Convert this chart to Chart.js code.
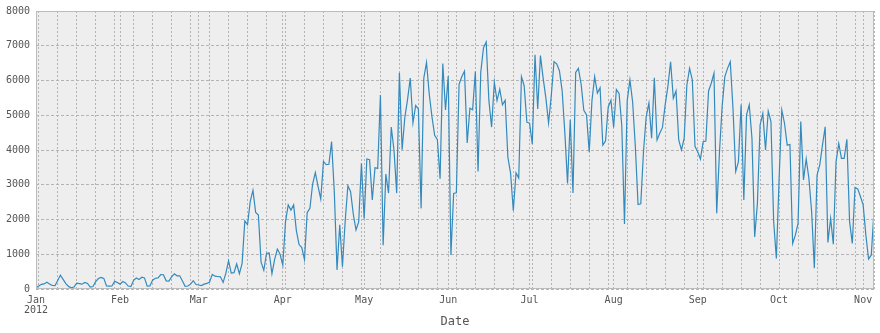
<!DOCTYPE html>
<html>
<head>
<meta charset="utf-8">
<script src="https://cdn.jsdelivr.net/npm/chart.js@4.4.1/dist/chart.umd.min.js"></script>
<style>
  html, body { margin: 0; padding: 0; background: #ffffff; }
  #wrap { width: 880px; height: 333px; position: relative; }
</style>
</head>
<body>
<div id="wrap"><canvas id="chart" width="880" height="333"></canvas></div>
<script>
// Daily counts, 2012, one array per month
const monthLabels = ['Jan', 'Feb', 'Mar', 'Apr', 'May', 'Jun', 'Jul', 'Aug', 'Sep', 'Oct', 'Nov'];
const yearLabel = '2012';
const axisTitle = 'Date';
const yTicks = [0, 1000, 2000, 3000, 4000, 5000, 6000, 7000, 8000];

const jan = [35, 85, 135, 145, 195, 145, 100, 95, 245, 395, 275, 155, 75, 35, 55, 170, 155, 140, 190, 160, 55, 70, 210, 300, 335, 305, 90, 80, 85, 220, 185];
const feb = [140, 215, 175, 85, 70, 250, 315, 270, 340, 320, 80, 85, 255, 310, 320, 415, 410, 235, 225, 350, 435, 380, 380, 230, 75, 85, 140, 240, 130];
const mar = [115, 100, 140, 160, 200, 420, 370, 360, 350, 190, 450, 810, 460, 470, 720, 440, 740, 1960, 1850, 2520, 2840, 2200, 2130, 770, 540, 1030, 1040, 440, 850, 1150, 1000];
const apr = [690, 1940, 2420, 2270, 2420, 1680, 1280, 1190, 850, 2200, 2320, 3020, 3350, 2950, 2590, 3670, 3580, 3590, 4240, 2780, 550, 1850, 640, 1950, 2970, 2800, 2150, 1700, 1940, 3620];
const may = [2020, 3740, 3720, 2560, 3490, 3470, 5580, 1260, 3310, 2760, 4660, 4000, 2760, 6220, 4010, 4940, 5450, 6070, 4780, 5280, 5180, 2320, 6070, 6520, 5610, 4960, 4420, 4300, 3170, 6490, 5150];
const jun = [6130, 980, 2750, 2770, 5890, 6110, 6270, 4200, 5200, 5160, 6260, 3380, 6240, 6940, 7110, 5420, 4660, 5950, 5420, 5750, 5300, 5430, 3790, 3330, 2250, 3340, 3190, 6110, 5850, 4800];
const jul = [4770, 4170, 6740, 5180, 6720, 6070, 5500, 4780, 5560, 6540, 6480, 6280, 5710, 4500, 3040, 4870, 2760, 6230, 6350, 5900, 5140, 5010, 3940, 5420, 6110, 5640, 5790, 4140, 4260, 5240, 5430];
const aug = [4650, 5740, 5630, 4700, 1870, 5420, 6020, 5380, 4100, 2430, 2450, 3950, 4960, 5350, 4340, 6080, 4290, 4480, 4650, 5300, 5830, 6540, 5490, 5700, 4290, 4000, 4340, 5870, 6350, 6020, 4100];
const sep = [3950, 3740, 4240, 4260, 5700, 5920, 6210, 2180, 3910, 5250, 6110, 6350, 6540, 5200, 3380, 3660, 5310, 2560, 5010, 5300, 4340, 1500, 2450, 4720, 5050, 4000, 5120, 4820, 1940, 880];
const oct = [3150, 5150, 4770, 4140, 4160, 1310, 1550, 1890, 4820, 3140, 3740, 3180, 2230, 600, 3280, 3570, 4140, 4670, 1340, 2030, 1290, 3660, 4190, 3760, 3760, 4310, 1940, 1310, 2920, 2880, 2660];
const nov = [2420, 1550, 860, 980, 2250];

// Build the day-indexed series (day 0 = 1 Jan 2012)
const months = [jan, feb, mar, apr, may, jun, jul, aug, sep, oct, nov];
const points = [];
const monthStarts = [];
let day = 0;
months.forEach(m => {
  monthStarts.push(day);
  m.forEach(v => { points.push({ x: day, y: v }); day++; });
});
const lastDay = day - 1;

// Minor grid on Mondays (2 Jan 2012 was a Monday), major grid on month starts
const mondays = [];
for (let d = 1; d <= lastDay; d += 7) mondays.push(d);
const gridDays = Array.from(new Set(monthStarts.concat(mondays))).sort((a, b) => a - b);

const tickFont = { family: 'DejaVu Sans Mono', size: 10, lineHeight: 1.0 };
const textColor = '#555555';
const gridColor = '#b4b4b4';

const plotFrame = {
  id: 'plotFrame',
  beforeDraw(chart) {
    const { ctx, chartArea: a } = chart;
    ctx.save();
    ctx.fillStyle = '#ffffff';
    ctx.fillRect(0, 0, chart.width, chart.height);
    ctx.fillStyle = '#eeeeee';
    ctx.fillRect(a.left, a.top, a.right - a.left, a.bottom - a.top);
    ctx.restore();
  },
  afterDraw(chart) {
    const { ctx, chartArea: a } = chart;
    ctx.save();
    ctx.strokeStyle = '#bcbcbc';
    ctx.lineWidth = 1;
    ctx.strokeRect(Math.round(a.left) + 0.5, Math.round(a.top) + 0.5,
                   Math.round(a.right - a.left) - 1, Math.round(a.bottom - a.top) - 1);
    ctx.restore();
  }
};

new Chart(document.getElementById('chart'), {
  type: 'line',
  data: {
    datasets: [{
      data: points,
      borderColor: '#348ABD',
      borderWidth: 1.2,
      pointRadius: 0,
      tension: 0,
      fill: false
    }]
  },
  options: {
    responsive: false,
    animation: false,
    devicePixelRatio: 1,
    layout: { padding: { top: 11, right: 6, left: 0, bottom: 0 } },
    plugins: { legend: { display: false }, tooltip: { enabled: false } },
    scales: {
      x: {
        type: 'linear',
        min: 0,
        max: lastDay,
        afterBuildTicks: s => { s.ticks = gridDays.map(v => ({ value: v })); },
        afterFit: s => { s.height = 44; },
        grid: { color: gridColor, lineWidth: 1, drawTicks: false },
        border: { display: false, dash: [2, 2] },
        ticks: {
          autoSkip: false,
          maxRotation: 0,
          padding: 6,
          color: textColor,
          font: tickFont,
          callback: v => {
            const i = monthStarts.indexOf(v);
            if (i < 0) return '';
            return i === 0 ? [monthLabels[0], yearLabel] : monthLabels[i];
          }
        },
        title: {
          display: true,
          text: axisTitle,
          color: textColor,
          font: { family: 'DejaVu Sans Mono', size: 12 },
          padding: { top: 0, bottom: 4 }
        }
      },
      y: {
        min: yTicks[0],
        max: yTicks[yTicks.length - 1],
        afterBuildTicks: s => { s.ticks = yTicks.map(v => ({ value: v })); },
        afterFit: s => { s.width = 36; },
        grid: { color: gridColor, lineWidth: 1, drawTicks: false },
        border: { display: false, dash: [3, 2] },
        ticks: {
          padding: 6,
          color: textColor,
          font: tickFont,
          callback: v => String(v)
        }
      }
    }
  },
  plugins: [plotFrame]
});
</script>
</body>
</html>
